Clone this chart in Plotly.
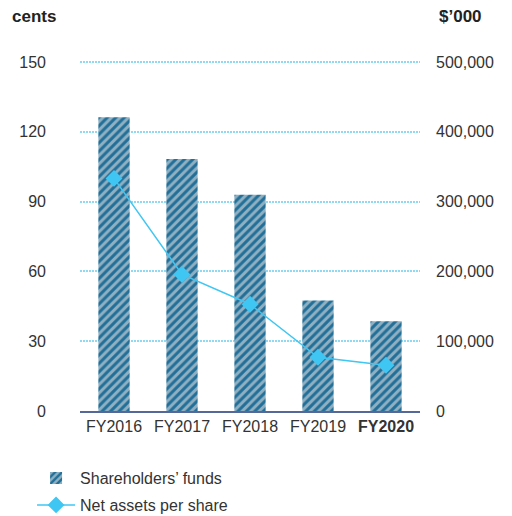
import plotly.graph_objects as go

# ── Data ─────────────────────────────────────────────────────────────────────
years = ["FY2016", "FY2017", "FY2018", "FY2019", "FY2020"]
year_labels = ["FY2016", "FY2017", "FY2018", "FY2019", "<b>FY2020</b>"]
shareholders_funds = [421000, 361000, 310000, 158500, 128500]   # $'000
net_assets_per_share = [100.0, 58.7, 45.9, 23.1, 19.7]          # cents

left_ticks = [0, 30, 60, 90, 120, 150]
right_ticks = [0, 100000, 200000, 300000, 400000, 500000]

FONT = "Liberation Sans, Arial, sans-serif"
TEXT = "#333333"
GRID = "#8fd9f3"
LINE = "#3fc6f2"

fig = go.Figure()

# bars on the base (right-hand) axis, line on the overlaying axis so it sits on top
fig.add_trace(go.Bar(
    x=years, y=shareholders_funds, yaxis="y",
    name="Shareholders’ funds", legendgroup="a",
    width=0.46,
    marker=dict(
        color="#8fb0c2",
        line=dict(width=0),
        pattern=dict(shape="/", fgcolor="#226f98", bgcolor="#8fb0c2",
                     size=6, solidity=0.5, fillmode="replace"),
    ),
))

fig.add_trace(go.Scatter(
    x=years, y=net_assets_per_share, yaxis="y2",
    name="Net assets per share", legendgroup="b",
    mode="lines+markers",
    line=dict(color=LINE, width=1.5),
    marker=dict(symbol="diamond", size=13, color=LINE),
))

# page has an 8px body margin, so the figure is 8px smaller than the window
fig.update_layout(
    width=504, height=508,
    paper_bgcolor="white", plot_bgcolor="white",
    font=dict(family=FONT, size=16, color=TEXT),
    margin=dict(l=72, r=92, t=52, b=105, autoexpand=False),
    showlegend=True,
    legend=dict(x=-0.141, y=-0.143, xanchor="left", yanchor="top",
                orientation="v", traceorder="grouped",
                font=dict(size=16, color=TEXT), itemwidth=38,
                tracegroupgap=3),
    xaxis=dict(
        tickmode="array", tickvals=years, ticktext=year_labels,
        showgrid=False, showline=True, linecolor="#56689a", linewidth=2,
        ticks="", tickfont=dict(size=16, color=TEXT),
    ),
    yaxis=dict(
        range=[0, 503000], tickvals=right_ticks, tickformat=",d",
        side="right", showgrid=False, zeroline=False, ticklabelstandoff=15,
        tickfont=dict(size=16, color=TEXT),
    ),
    yaxis2=dict(
        range=[0, 150.9], tickvals=left_ticks,
        overlaying="y", side="left", showgrid=True, gridcolor=GRID,
        griddash="2px,1px", gridwidth=1.5, zeroline=False,
        ticklabelstandoff=33, tickfont=dict(size=16, color=TEXT),
    ),
    annotations=[
        dict(text="<b>cents</b>", xref="paper", yref="paper",
             x=-0.206, y=1.124, xanchor="left", yanchor="middle",
             showarrow=False, font=dict(size=17, color="#222222")),
        dict(text="<b>$’000</b>", xref="paper", yref="paper",
             x=1.05, y=1.124, xanchor="left", yanchor="middle",
             showarrow=False, font=dict(size=17, color="#222222")),
    ],
)

fig.write_html("out.html")
